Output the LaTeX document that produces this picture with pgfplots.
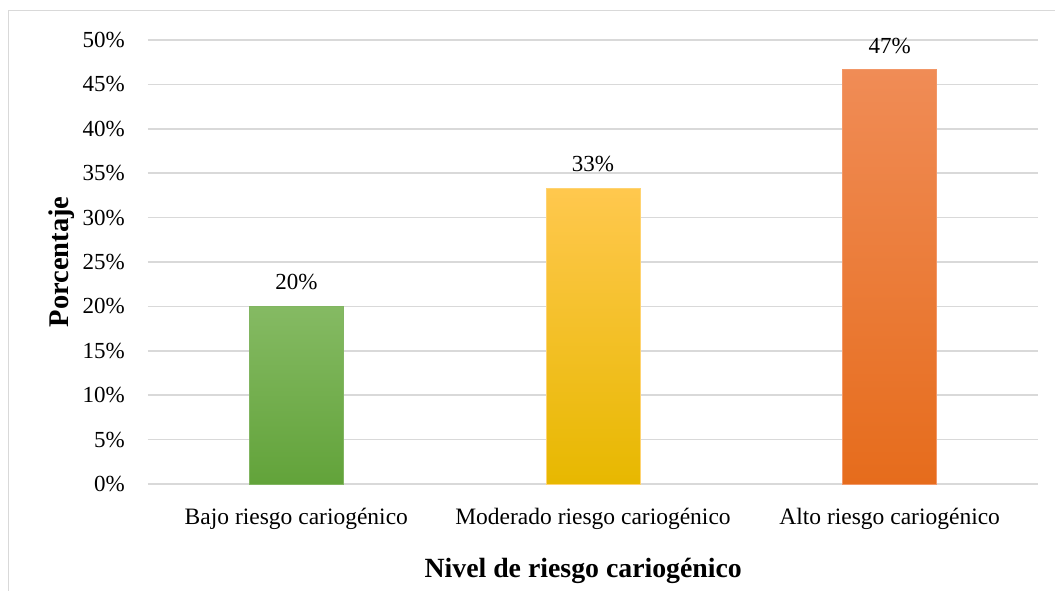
\documentclass[border=0pt]{standalone}
\usepackage{pgfplots}
\pgfplotsset{compat=1.18}
\usepackage{fontspec}
\setmainfont{Liberation Serif}
\definecolor{gridc}{HTML}{D9D9D9}
\definecolor{gtop}{HTML}{85BA63}
\definecolor{gbot}{HTML}{62A33A}
\definecolor{ytop}{HTML}{FFC84E}
\definecolor{ybot}{HTML}{E7B800}
\definecolor{otop}{HTML}{F08C56}
\definecolor{obot}{HTML}{E66C1C}
\begin{document}
\begin{tikzpicture}
\path[use as bounding box] (0pt,0pt) rectangle (1055pt,591pt);
\draw[gridc, line width=1.2pt] (8.5pt,0pt) -- (8.5pt,580.5pt) -- (1055pt,580.5pt);
\begin{axis}[
  at={(148pt,107pt)}, anchor=south west,
  scale only axis, width=890pt, height=444pt,
  xmin=-0.5, xmax=2.5, ymin=0, ymax=50,
  axis line style={draw=none},
  major tick style={draw=none},
  ymajorgrids, grid style={gridc, line width=1.5pt},
  ytick={0,5,...,50},
  yticklabels={0\%,5\%,10\%,15\%,20\%,25\%,30\%,35\%,40\%,45\%,50\%},
  yticklabel style={font=\fontsize{23}{27}\selectfont, anchor=east, inner sep=0pt, xshift=-23pt},
  xtick={0,1,2},
  xticklabels={Bajo riesgo cariogénico, Moderado riesgo cariogénico, Alto riesgo cariogénico},
  xticklabel style={font=\fontsize{23.5}{27}\selectfont, anchor=base, inner sep=0pt, yshift=-36pt},
  ylabel={\textbf{Porcentaje}},
  ylabel style={font=\fontsize{28.5}{32}\selectfont, at={(axis description cs:-0.0966,0.5)}, anchor=center, inner sep=0pt},
  xlabel={\textbf{Nivel de riesgo cariogénico}},
  xlabel style={font=\fontsize{27.8}{32}\selectfont, at={(axis description cs:0.489,-0.21)}, anchor=base, inner sep=0pt},
  ybar, bar width=94pt, bar shift=0pt,
  point meta=explicit symbolic,
  nodes near coords,
  every node near coord/.append style={font=\fontsize{23}{27}\selectfont, anchor=base, inner sep=0pt, yshift=16.5pt, text=black},
  clip=false,
]
\addplot[top color=gtop, bottom color=gbot, draw=gbot!80!white, line width=0.8pt] coordinates {(0,20) [20\%]};
\addplot[top color=ytop, bottom color=ybot, draw=ytop!80!white, line width=0.8pt] coordinates {(1,33.33) [33\%]};
\addplot[top color=otop, bottom color=obot, draw=otop!90!white, line width=0.8pt] coordinates {(2,46.67) [47\%]};
\end{axis}
\end{tikzpicture}
\end{document}
